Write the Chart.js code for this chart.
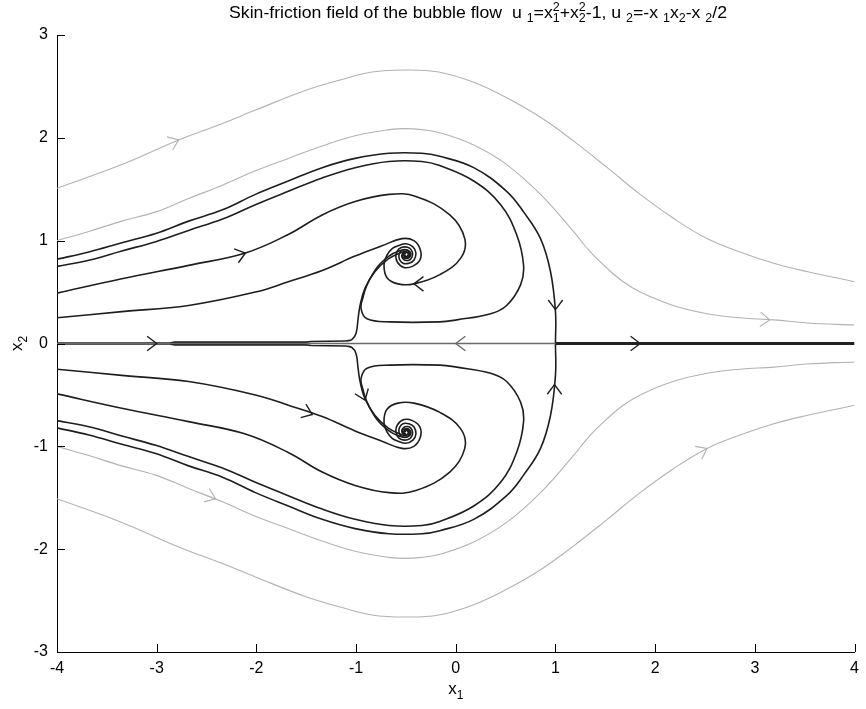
<!DOCTYPE html>
<html>
<head>
<meta charset="utf-8">
<script src="https://cdn.jsdelivr.net/npm/chart.js@4.4.1/dist/chart.umd.min.js"></script>
<style>
  html, body { margin: 0; padding: 0; background: #fff; }
  #wrap { width: 866px; height: 709px; }
</style>
</head>
<body>
<div id="wrap"><canvas id="c" width="866" height="709"></canvas></div>
<script>
// Axis ticks
const xTicks = [-4, -3, -2, -1, 0, 1, 2, 3, 4];
const yTicks = [-3, -2, -1, 0, 1, 2, 3];

// Streamlines of the skin-friction field, upper half (x1, x2)
const gray1U = [[-4,1.51],[-3.35,1.74],[-2.78,1.98],[-2.34,2.14],[-2.01,2.27],[-1.51,2.46],[-1.17,2.56],[-0.84,2.64],[-0.51,2.66],[-0.17,2.64],[0.18,2.54],[0.51,2.39],[0.85,2.2],[1.18,1.97],[1.52,1.71],[1.85,1.45],[2.18,1.22],[2.52,1.02],[2.85,0.89],[3.19,0.78],[3.52,0.7],[4,0.6]];
const gray2U = [[-4,1.0],[-3.68,1.09],[-3.35,1.19],[-3.01,1.28],[-2.68,1.41],[-2.34,1.54],[-2.01,1.68],[-1.68,1.8],[-1.34,1.92],[-1.01,2.02],[-0.67,2.08],[-0.51,2.09],[-0.34,2.08],[-0.16,2.05],[0.18,1.93],[0.51,1.74],[0.85,1.45],[1.18,1.09],[1.35,0.89],[1.52,0.73],[1.68,0.6],[1.85,0.5],[2.18,0.37],[2.52,0.29],[2.85,0.25],[3.19,0.23],[3.52,0.2],[4,0.18]];
const dark1U = [[-4,0.82],[-3.68,0.89],[-3.35,0.98],[-3.01,1.07],[-2.68,1.19],[-2.34,1.3],[-2.01,1.45],[-1.68,1.58],[-1.34,1.71],[-1.01,1.8],[-0.67,1.85],[-0.34,1.85],[-0.16,1.82],[0.18,1.71],[0.51,1.48],[0.68,1.28],[0.85,1.02],[0.95,0.7],[1.0,0.31],[1.0,0.0]];
const dark2U = [[-4,0.75],[-3.68,0.81],[-3.35,0.9],[-3.01,0.99],[-2.68,1.1],[-2.34,1.21],[-2.01,1.35],[-1.68,1.48],[-1.34,1.61],[-1.01,1.71],[-0.67,1.77],[-0.34,1.77],[-0.16,1.73],[0.18,1.58],[0.45,1.35],[0.61,1.06],[0.68,0.76],[0.65,0.57],[0.51,0.37],[0.35,0.29],[0.01,0.23],[-0.16,0.21],[-0.66,0.21],[-0.89,0.24],[-0.95,0.34],[-0.93,0.45],[-0.89,0.57],[-0.79,0.74],[-0.67,0.85],[-0.57,0.9],[-0.49,0.91],[-0.45,0.87],[-0.48,0.83],[-0.53,0.84],[-0.53,0.87],[-0.5,0.885]];
const dark3U = [[-4,0.49],[-3.35,0.63],[-2.68,0.76],[-2.11,0.88],[-1.68,1.06],[-1.34,1.25],[-1.01,1.38],[-0.67,1.45],[-0.4,1.43],[-0.06,1.25],[0.09,1.02],[0.05,0.83],[-0.16,0.67],[-0.42,0.58],[-0.58,0.58],[-0.69,0.64],[-0.72,0.76],[-0.69,0.86],[-0.635,0.925],[-0.58,0.95],[-0.5,0.97],[-0.43,0.94],[-0.4,0.88],[-0.42,0.81],[-0.47,0.78],[-0.53,0.78],[-0.565,0.82],[-0.567,0.872],[-0.539,0.906],[-0.5,0.912],[-0.468,0.892],[-0.462,0.86],[-0.485,0.834],[-0.517,0.846],[-0.512,0.867]];
const dark4U = [[-4,0.25],[-3.35,0.31],[-2.68,0.37],[-2.01,0.5],[-1.68,0.6],[-1.34,0.71],[-1.01,0.85],[-0.74,0.95],[-0.54,1.02],[-0.42,1.0],[-0.355,0.91],[-0.36,0.81],[-0.435,0.75],[-0.52,0.74],[-0.585,0.79],[-0.6,0.86],[-0.57,0.92],[-0.515,0.94],[-0.46,0.925],[-0.435,0.885],[-0.44,0.84],[-0.47,0.81],[-0.51,0.81],[-0.535,0.83],[-0.54,0.86],[-0.517,0.889],[-0.486,0.884],[-0.478,0.86],[-0.5,0.844],[-0.51,0.86]];
const wallU = [[-4,0.004],[-2.87,0.004],[-2.82,0.013],[-1.5,0.013],[-1.45,0.02],[-1.1,0.024]];
const riseU = [[-1.1,0.024],[-1.04,0.04],[-1.0,0.1],[-0.98,0.24],[-0.96,0.37],[-0.91,0.54],[-0.81,0.7],[-0.68,0.82],[-0.56,0.88],[-0.5,0.895],[-0.465,0.87],[-0.48,0.845],[-0.515,0.85],[-0.52,0.87],[-0.5,0.878]];

// Lower half
const gray1L = [[-4,-1.51],[-3.35,-1.74],[-2.78,-1.98],[-2.34,-2.14],[-2.01,-2.27],[-1.51,-2.46],[-1.17,-2.56],[-0.84,-2.64],[-0.51,-2.66],[-0.17,-2.64],[0.18,-2.54],[0.51,-2.39],[0.85,-2.2],[1.18,-1.97],[1.52,-1.71],[1.85,-1.45],[2.18,-1.22],[2.52,-1.02],[2.85,-0.89],[3.19,-0.78],[3.52,-0.7],[4,-0.6]];
const gray2L = [[-4,-1.0],[-3.68,-1.09],[-3.35,-1.19],[-3.01,-1.28],[-2.68,-1.41],[-2.34,-1.54],[-2.01,-1.68],[-1.68,-1.8],[-1.34,-1.92],[-1.01,-2.02],[-0.67,-2.08],[-0.51,-2.09],[-0.34,-2.08],[-0.16,-2.05],[0.18,-1.93],[0.51,-1.74],[0.85,-1.45],[1.18,-1.09],[1.35,-0.89],[1.52,-0.73],[1.68,-0.6],[1.85,-0.5],[2.18,-0.37],[2.52,-0.29],[2.85,-0.25],[3.19,-0.23],[3.52,-0.2],[4,-0.18]];
const dark1L = [[-4,-0.82],[-3.68,-0.89],[-3.35,-0.98],[-3.01,-1.07],[-2.68,-1.19],[-2.34,-1.3],[-2.01,-1.45],[-1.68,-1.58],[-1.34,-1.71],[-1.01,-1.8],[-0.67,-1.85],[-0.34,-1.85],[-0.16,-1.82],[0.18,-1.71],[0.51,-1.48],[0.68,-1.28],[0.85,-1.02],[0.95,-0.7],[1.0,-0.31],[1.0,0.0]];
const dark2L = [[-4,-0.75],[-3.68,-0.81],[-3.35,-0.9],[-3.01,-0.99],[-2.68,-1.1],[-2.34,-1.21],[-2.01,-1.35],[-1.68,-1.48],[-1.34,-1.61],[-1.01,-1.71],[-0.67,-1.77],[-0.34,-1.77],[-0.16,-1.73],[0.18,-1.58],[0.45,-1.35],[0.61,-1.06],[0.68,-0.76],[0.65,-0.57],[0.51,-0.37],[0.35,-0.29],[0.01,-0.23],[-0.16,-0.21],[-0.66,-0.21],[-0.89,-0.24],[-0.95,-0.34],[-0.93,-0.45],[-0.89,-0.57],[-0.79,-0.74],[-0.67,-0.85],[-0.57,-0.9],[-0.49,-0.91],[-0.45,-0.87],[-0.48,-0.83],[-0.53,-0.84],[-0.53,-0.87],[-0.5,-0.885]];
const dark3L = [[-4,-0.49],[-3.35,-0.63],[-2.68,-0.76],[-2.11,-0.88],[-1.68,-1.06],[-1.34,-1.25],[-1.01,-1.38],[-0.67,-1.45],[-0.4,-1.43],[-0.06,-1.25],[0.09,-1.02],[0.05,-0.83],[-0.16,-0.67],[-0.42,-0.58],[-0.58,-0.58],[-0.69,-0.64],[-0.72,-0.76],[-0.69,-0.86],[-0.635,-0.925],[-0.58,-0.95],[-0.5,-0.97],[-0.43,-0.94],[-0.4,-0.88],[-0.42,-0.81],[-0.47,-0.78],[-0.53,-0.78],[-0.565,-0.82],[-0.567,-0.872],[-0.539,-0.906],[-0.5,-0.912],[-0.468,-0.892],[-0.462,-0.86],[-0.485,-0.834],[-0.517,-0.846],[-0.512,-0.867]];
const dark4L = [[-4,-0.25],[-3.35,-0.31],[-2.68,-0.37],[-2.01,-0.5],[-1.68,-0.6],[-1.34,-0.71],[-1.01,-0.85],[-0.74,-0.95],[-0.54,-1.02],[-0.42,-1.0],[-0.355,-0.91],[-0.36,-0.81],[-0.435,-0.75],[-0.52,-0.74],[-0.585,-0.79],[-0.6,-0.86],[-0.57,-0.92],[-0.515,-0.94],[-0.46,-0.925],[-0.435,-0.885],[-0.44,-0.84],[-0.47,-0.81],[-0.51,-0.81],[-0.535,-0.83],[-0.54,-0.86],[-0.517,-0.889],[-0.486,-0.884],[-0.478,-0.86],[-0.5,-0.844],[-0.51,-0.86]];
const wallL = [[-4,-0.004],[-2.87,-0.004],[-2.82,-0.013],[-1.5,-0.013],[-1.45,-0.02],[-1.1,-0.024]];
const riseL = [[-1.1,-0.024],[-1.04,-0.04],[-1.0,-0.1],[-0.98,-0.24],[-0.96,-0.37],[-0.91,-0.54],[-0.81,-0.7],[-0.68,-0.82],[-0.56,-0.88],[-0.5,-0.895],[-0.465,-0.87],[-0.48,-0.845],[-0.515,-0.85],[-0.52,-0.87],[-0.5,-0.878]];

// The x2 = 0 line: backflow between the nodes and the outflow to the right
const axisMid = [[-4,0],[1,0]];
const axisOut = [[1,0],[4,0]];

// Direction arrows: the curve each sits on, its position and its heading
const arrowCurve = ['wallU','axisMid','axisOut','dark1U','dark3U','dark3U','gray1U','gray2U','dark1L','dark4L','riseL','gray2L','gray1L'];
const arrowX  = [-3.0, 0.0, 1.85, 1.0, -2.11, -0.42, -2.78, 3.15, 0.99, -1.44, -0.91, -2.41, 2.52];
const arrowY  = [0, 0, 0, 0.33, 0.88, 0.58, 1.98, 0.23, -0.4, -0.69, -0.55, -1.51, -1.02];
const arrowDX = [1, -1, 1, 0, 1, -1, 1, 1, 0, 1, 0.4, 1, 1];
const arrowDY = [0, 0, 0, -1, 0.3, 0, 0.4, -0.06, 1, -0.38, -1, -0.39, 0.5];

const FONT = '"Liberation Sans", Arial, Helvetica, sans-serif';
const DARK = { color: '#1e1e1e', width: 1.6 };
const LIGHT = { color: '#b2b2b2', width: 1.1 };

const curves = {
  gray1U: [gray1U, LIGHT, 0.4], gray2U: [gray2U, LIGHT, 0.4],
  gray1L: [gray1L, LIGHT, 0.4], gray2L: [gray2L, LIGHT, 0.4],
  axisMid: [axisMid, { color: '#6a6a6a', width: 1.4 }, 0],
  axisOut: [axisOut, { color: '#222', width: 3 }, 0],
  dark1U: [dark1U, DARK, 0.4], dark2U: [dark2U, DARK, 0.4], dark3U: [dark3U, DARK, 0.4], dark4U: [dark4U, DARK, 0.4],
  dark1L: [dark1L, DARK, 0.4], dark2L: [dark2L, DARK, 0.4], dark3L: [dark3L, DARK, 0.4], dark4L: [dark4L, DARK, 0.4],
  wallU: [wallU, DARK, 0], wallL: [wallL, DARK, 0],
  riseU: [riseU, DARK, 0.4], riseL: [riseL, DARK, 0.4]
};

const datasets = Object.keys(curves).map(name => {
  const [pts, st, tension] = curves[name];
  return {
    label: name,
    data: pts.map(p => ({ x: p[0], y: p[1] })),
    showLine: true,
    pointRadius: 0,
    borderColor: st.color,
    borderWidth: st.width,
    tension: tension,
    fill: false
  };
});

// Inward tick marks on the left and bottom axes
const innerTicks = {
  id: 'innerTicks',
  afterDraw(chart) {
    const { ctx, chartArea: a, scales: { x, y } } = chart;
    ctx.save();
    ctx.strokeStyle = '#000';
    ctx.lineWidth = 1;
    ctx.beginPath();
    xTicks.forEach(v => {
      const px = Math.round(x.getPixelForValue(v)) + 0.5;
      ctx.moveTo(px, a.bottom); ctx.lineTo(px, a.bottom - 8);
    });
    yTicks.forEach(v => {
      const py = Math.round(y.getPixelForValue(v)) + 0.5;
      ctx.moveTo(a.left, py); ctx.lineTo(a.left + 8, py);
    });
    ctx.stroke();
    ctx.restore();
  }
};

// Chevron arrows along the streamlines
const arrows = {
  id: 'arrows',
  afterDatasetsDraw(chart) {
    const { ctx, scales: { x, y } } = chart;
    const sx = x.getPixelForValue(1) - x.getPixelForValue(0);
    const sy = y.getPixelForValue(0) - y.getPixelForValue(1);
    const L = 12, ang = 37 * Math.PI / 180;
    ctx.save();
    arrowCurve.forEach((name, i) => {
      const st = curves[name][1];
      const tx = x.getPixelForValue(arrowX[i]);
      const ty = y.getPixelForValue(arrowY[i]);
      let dx = arrowDX[i] * sx, dy = -arrowDY[i] * sy;
      const n = Math.hypot(dx, dy); dx /= n; dy /= n;
      const bx = -dx, by = -dy;
      const c = Math.cos(ang), s = Math.sin(ang);
      const a1x = bx * c - by * s, a1y = bx * s + by * c;
      const a2x = bx * c + by * s, a2y = -bx * s + by * c;
      ctx.strokeStyle = st.color;
      ctx.lineWidth = Math.min(st.width, 1.4);
      ctx.beginPath();
      ctx.moveTo(tx + a1x * L, ty + a1y * L);
      ctx.lineTo(tx, ty);
      ctx.lineTo(tx + a2x * L, ty + a2y * L);
      ctx.stroke();
    });
    ctx.restore();
  }
};

// Text with TeX-like _sub and ^sup markers; a sub and a sup on the same base are stacked
function layoutRich(ctx, str, baseFont, smallFont) {
  const items = [];
  let x = 0, scriptStart = 0, prevKind = null;
  for (let i = 0; i < str.length; i++) {
    const ch = str[i];
    if ((ch === '_' || ch === '^') && i + 1 < str.length) {
      const t = str[++i];
      ctx.font = smallFont;
      const w = ctx.measureText(t).width;
      let sx;
      if (prevKind && prevKind !== ch) { sx = scriptStart; } else { sx = x; scriptStart = x; }
      items.push({ t, x: sx, kind: ch });
      x = Math.max(x, sx + w);
      prevKind = ch;
    } else {
      ctx.font = baseFont;
      const w = ctx.measureText(ch).width;
      items.push({ t: ch, x, kind: '' });
      x += w;
      prevKind = null;
    }
  }
  return { items, width: x };
}

function drawRich(ctx, lay, x0, y0, baseFont, smallFont, subDy, supDy) {
  ctx.textBaseline = 'alphabetic';
  ctx.textAlign = 'left';
  lay.items.forEach(it => {
    ctx.font = it.kind ? smallFont : baseFont;
    const dy = it.kind === '_' ? subDy : (it.kind === '^' ? supDy : 0);
    ctx.fillText(it.t, x0 + it.x, y0 + dy);
  });
}

const TITLE = 'Skin-friction field of the bubble flow  u _1=x_1^2+x_2^2-1, u _2=-x _1x_2-x _2/2';

const labels = {
  id: 'labels',
  afterDraw(chart) {
    const { ctx, chartArea: a } = chart;
    ctx.save();
    ctx.fillStyle = '#000';
    // title, condensed to its line length
    const bf = '17px ' + FONT, sf = '12px ' + FONT;
    const lay = layoutRich(ctx, TITLE, bf, sf);
    const k = 498 / lay.width;
    ctx.save();
    ctx.translate(229, 18);
    ctx.scale(k, 1);
    drawRich(ctx, lay, 0, 0, bf, sf, 4, -7);
    ctx.restore();

    // x-axis title
    const lf = '17px ' + FONT, lsf = '12px ' + FONT;
    const lx = layoutRich(ctx, 'x_1', lf, lsf);
    drawRich(ctx, lx, (a.left + a.right) / 2 - lx.width / 2, 694, lf, lsf, 5, -7);

    // y-axis title
    const ly = layoutRich(ctx, 'x_2', lf, lsf);
    ctx.save();
    ctx.translate(22, (a.top + a.bottom) / 2);
    ctx.rotate(-Math.PI / 2);
    drawRich(ctx, ly, -ly.width / 2, 0, lf, lsf, 5, -7);
    ctx.restore();
    ctx.restore();
  }
};

new Chart(document.getElementById('c'), {
  type: 'scatter',
  data: { datasets },
  options: {
    responsive: false,
    animation: false,
    devicePixelRatio: 1,
    events: [],
    layout: { padding: { top: 35, right: 11, left: 0, bottom: 0 } },
    plugins: { legend: { display: false }, tooltip: { enabled: false }, title: { display: false } },
    scales: {
      x: {
        type: 'linear', min: -4, max: 4,
        afterBuildTicks: s => { s.ticks = xTicks.map(v => ({ value: v })); },
        afterFit: s => { s.height = 57; },
        grid: { display: false, drawTicks: false },
        border: { display: true, color: '#000', width: 1 },
        ticks: { color: '#000', font: { family: FONT, size: 16 }, padding: 7, maxRotation: 0, autoSkip: false }
      },
      y: {
        type: 'linear', min: -3, max: 3,
        afterBuildTicks: s => { s.ticks = yTicks.map(v => ({ value: v })); },
        afterFit: s => { s.width = 57; },
        grid: { display: false, drawTicks: false },
        border: { display: true, color: '#000', width: 1 },
        ticks: { color: '#000', font: { family: FONT, size: 16 }, padding: 9, autoSkip: false }
      }
    }
  },
  plugins: [innerTicks, arrows, labels]
});
</script>
</body>
</html>
